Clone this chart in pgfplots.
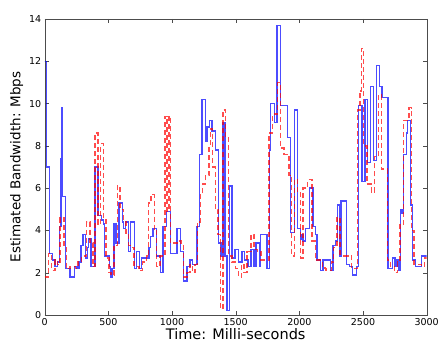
\documentclass[border=0pt]{standalone}
\usepackage{pgfplots}
\pgfplotsset{compat=1.18}
\usepackage{fontspec}
\setmainfont{DejaVu Sans}
\begin{document}
\begin{tikzpicture}
\begin{axis}[
  scale only axis,
  width=382pt, height=296pt,
  xmin=0, xmax=3000, ymin=0, ymax=14,
  xtick={0,500,...,3000}, ytick={0,2,...,14},
  tick pos=both, tick align=inside,
  major tick length=4pt,
  /pgf/number format/assume math mode=true,
  /pgf/number format/1000 sep={},
  ticklabel style={font=\fontsize{9.5}{11}\selectfont},
  xlabel={Time: Milli-seconds},
  ylabel={Estimated Bandwidth: Mbps},
  xlabel style={font=\fontsize{14.5}{16}\selectfont, yshift=4pt},
  ylabel style={font=\fontsize{13.5}{15}\selectfont, yshift=-1pt},
  axis line style={black!70},
  every tick/.style={black!70},
]
\addplot[const plot, color=blue, opacity=0.7, line width=1.4pt] coordinates {
(0,12.0) (15,7.0) (38,2.9) (60,2.6) (80,2.3) (100,2.5) (118,4.2) (128,7.4) (132,9.8) (140,5.6)
(165,2.2) (200,1.8) (235,2.3) (255,2.2) (270,2.5) (285,3.3) (300,3.8) (320,2.7) (335,3.2) (345,3.6)
(365,2.3) (395,7.0) (420,4.7) (445,4.5) (460,4.3) (470,2.8) (500,2.8) (510,2.3) (518,1.8) (530,2.2)
(545,4.3) (560,3.4) (582,5.3) (610,4.4) (620,4.1) (635,4.4) (660,3.0) (672,4.4) (705,2.2) (720,3.0)
(745,2.2) (760,2.7) (800,2.7) (820,3.2) (832,3.7) (850,4.1) (880,2.8) (910,2.0) (930,4.2) (955,4.9)
(990,2.9) (1040,4.1) (1065,3.0) (1091,1.6) (1117,2.3) (1140,2.6) (1160,2.4) (1196,4.2) (1217,7.6) (1235,10.2)
(1262,8.2) (1275,8.9) (1296,9.2) (1315,8.7) (1340,7.8) (1367,3.4) (1385,2.8) (1400,9.1) (1415,2.8) (1432,0.2)
(1452,6.1) (1470,2.7) (1496,3.1) (1520,2.5) (1550,3.0) (1570,2.6) (1595,2.3) (1620,3.1) (1645,2.3) (1660,3.4)
(1685,2.3) (1697,3.8) (1745,2.2) (1765,7.8) (1775,10.0) (1805,9.1) (1825,13.7) (1853,9.9) (1905,8.4) (1930,3.9)
(1960,9.7) (1983,4.1) (2008,3.6) (2020,3.8) (2030,3.5) (2048,4.1) (2080,6.0) (2107,4.2) (2125,3.8) (2140,2.6)
(2165,2.1) (2185,2.6) (2244,2.1) (2265,3.3) (2285,3.5) (2300,5.2) (2315,2.8) (2328,5.4) (2370,2.4) (2392,2.3)
(2415,1.9) (2450,2.3) (2465,9.9) (2491,6.3) (2516,10.2) (2537,7.2) (2560,10.8) (2583,7.3) (2604,11.8) (2628,10.8)
(2650,10.3) (2695,2.2) (2730,2.7) (2750,2.3) (2768,2.6) (2782,2.1) (2794,5.0) (2807,4.8) (2820,7.6) (2840,8.6)
(2850,9.2) (2872,5.2) (2890,2.6) (2910,2.3) (2960,2.8) (3000,2.8)
};
\addplot[const plot, color=red, opacity=0.7, line width=1.4pt, dash pattern=on 5pt off 3pt] coordinates {
(0,1.8) (30,2.9) (55,2.1) (80,2.6) (100,2.4) (120,4.6) (150,3.2) (170,2.2) (200,2.3) (240,2.2)
(260,2.5) (290,2.8) (330,4.4) (357,3.4) (380,2.3) (395,8.6) (420,4.3) (440,8.1) (460,4.5) (480,2.7)
(505,2.0) (520,1.9) (545,3.3) (570,6.1) (590,5.0) (620,4.4) (640,3.8) (660,3.3) (680,3.2) (700,2.3)
(740,2.1) (770,2.5) (800,2.8) (815,5.3) (835,5.7) (860,4.0) (880,2.3) (905,2.8) (945,9.4) (962,4.9)
(975,9.4) (990,3.4) (1040,3.5) (1070,3.3) (1090,1.8) (1117,2.0) (1140,2.4) (1160,2.0) (1180,2.4) (1200,4.4)
(1222,5.7) (1240,6.2) (1262,6.6) (1290,8.0) (1300,8.8) (1320,7.0) (1340,5.0) (1360,3.8) (1379,0.3) (1400,9.7)
(1420,8.4) (1445,2.8) (1470,2.5) (1500,2.2) (1520,1.8) (1545,2.4) (1565,2.0) (1590,3.0) (1620,3.8) (1645,3.1)
(1670,3.0) (1700,2.6) (1760,8.6) (1790,9.5) (1830,11.0) (1850,7.9) (1880,7.6) (1920,6.6) (1940,2.8) (1960,6.4)
(1985,5.8) (2008,2.7) (2030,6.0) (2066,6.4) (2100,3.5) (2125,2.6) (2180,2.3) (2200,2.2) (2210,2.1) (2250,2.5)
(2270,3.2) (2295,4.6) (2320,2.8) (2380,2.8) (2410,2.2) (2455,9.7) (2475,10.6) (2490,12.6) (2505,8.0) (2530,6.2)
(2565,5.8) (2590,7.5) (2620,10.4) (2645,6.9) (2690,2.6) (2715,2.3) (2745,2.0) (2770,2.5) (2790,4.3) (2820,9.2)
(2860,9.8) (2880,4.0) (2900,2.4) (2960,2.3) (2985,2.7) (3000,2.7)
};
\end{axis}
\pgfresetboundingbox
\path[use as bounding box] ([shift={(-44.7pt,-30pt)}]current axis.south west) rectangle ([shift={(11.3pt,19pt)}]current axis.north east);
\end{tikzpicture}
\end{document}
